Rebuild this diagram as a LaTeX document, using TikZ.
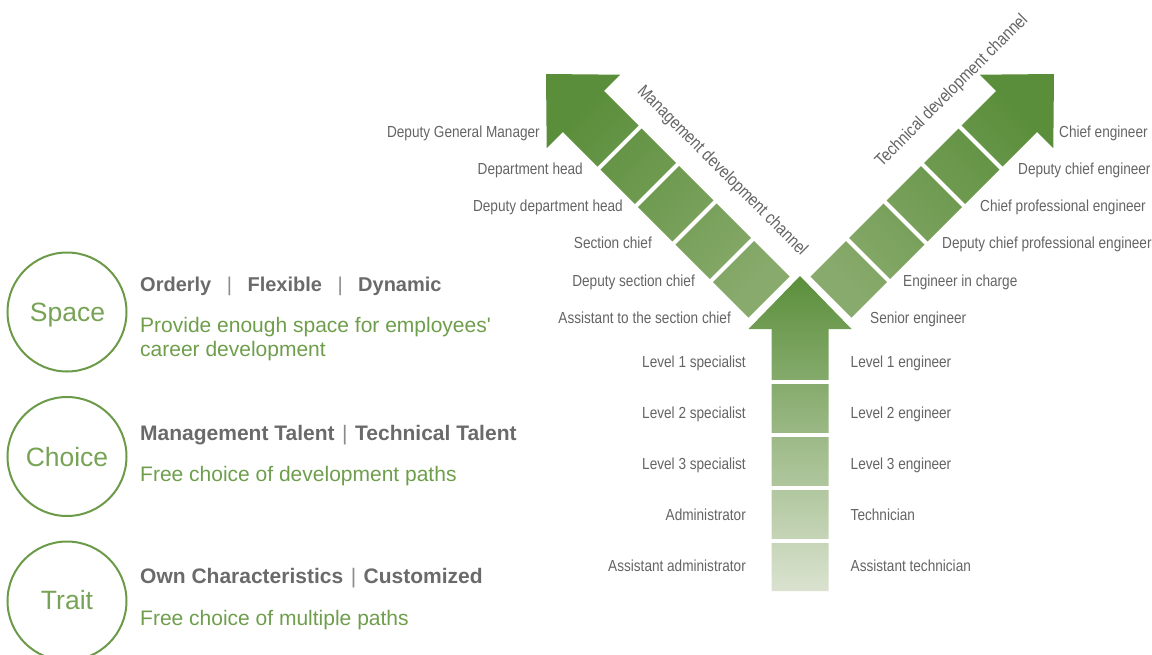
\documentclass[tikz,border=0pt]{standalone}
\usepackage{fontspec}
\setmainfont{Liberation Sans}[Ligatures=TeXOff]
\newfontfamily\narrowfont[FakeStretch=0.85]{Liberation Sans}
\usetikzlibrary{calc}
\definecolor{circg}{HTML}{6B9A49}
\definecolor{circt}{HTML}{77A356}
\definecolor{descg}{HTML}{6E9E4B}
\definecolor{headg}{HTML}{6A6A6A}
\definecolor{barg}{HTML}{8A8A8A}
\definecolor{labg}{HTML}{646464}
\definecolor{gdark}{HTML}{5B8E3B}
\definecolor{gtail}{HTML}{88AA6C}
\definecolor{cdark}{HTML}{5B8F3B}
\definecolor{cmid}{HTML}{8DAB70}
\definecolor{clight}{HTML}{DAE2CF}
\newcommand{\bsep}[1]{\hspace{#1}{\color{barg}\mdseries|}\hspace{#1}}
\tikzset{
  circ/.style={circle, draw=circg, line width=2pt, minimum size=119pt, inner sep=0pt},
  circtext/.style={font=\fontsize{26.5}{30}\selectfont, text=circt, anchor=base, inner sep=0pt},
  headtext/.style={font=\bfseries\fontsize{20}{24}\selectfont, text=headg, anchor=base west, inner sep=0pt},
  headwide/.style={headtext, font=\bfseries\fontsize{21}{24}\selectfont},
  desctext/.style={font=\fontsize{21}{24}\selectfont, text=descg, anchor=base west, inner sep=0pt},
  lab/.style={font=\narrowfont\fontsize{16}{19}\selectfont, text=labg, inner sep=0pt},
  labl/.style={lab, anchor=base east},
  labr/.style={lab, anchor=base west},
  chan/.style={font=\narrowfont\fontsize{17.5}{20}\selectfont, text=labg, inner sep=0pt},
  gapline/.style={white, line width=4pt},
}
\begin{document}
\begin{tikzpicture}[x=1pt,y=1pt]
\useasboundingbox (0,0) rectangle (1152,-654);
\clip (0,0) rectangle (1152,-654);

% ---------------- left column: circles and texts
\node[circ] (c1) at (67,-312) {};
\node[circ] (c2) at (67,-456.5) {};
\node[circ] (c3) at (67,-601) {};
\node[circtext] (t1) at (67.5,-321.5) {Space};
\node[circtext] (t2) at (67,-466) {Choice};
\node[circtext] (t3) at (67,-609.5) {Trait};

\node[headtext] (h1) at (140,-291.5) {Orderly\bsep{15.5pt}Flexible\bsep{15.5pt}Dynamic};
\node[desctext] (d1a) at (140,-332) {Provide enough space for employees'};
\node[desctext] (d1b) at (140,-356) {career development};

\node[headwide] (h2) at (140,-440.5) {Management Talent\bsep{7.5pt}Technical Talent};
\node[desctext] (d2) at (140,-481.5) {Free choice of development paths};

\node[headwide] (h3) at (140,-583.5) {Own Characteristics\bsep{7.5pt}Customized};
\node[desctext] (d3) at (140,-625.5) {Free choice of multiple paths};

% ---------------- central arrow
\coordinate (CT) at (800,-276);
\shade[top color=cdark, middle color=cmid, bottom color=clight]
  (CT) -- (748.5,-329) -- (771.5,-329) -- (771.5,-591) -- (828.5,-591)
  -- (828.5,-329) -- (851.5,-329) -- cycle;
\foreach \y in {381.5,434.5,487.5,540.5}
  \draw[gapline] (768,-\y) -- (832,-\y);

% ---------------- left (management) arrow
\coordinate (LT) at (546,-74);
\shade[top color=gdark, bottom color=gtail, shading angle=45]
  (LT) -- ($(LT)+(-45:53)+(45:52)$) -- ($(LT)+(-45:53)+(45:29)$)
  -- ($(LT)+(-45:315.5)+(45:29)$) -- ($(LT)+(-45:315.5)+(225:29)$)
  -- ($(LT)+(-45:53)+(225:29)$) -- ($(LT)+(-45:53)+(225:52)$) -- cycle;
\foreach \s in {104,157,210,263}
  \draw[gapline] ($(LT)+(-45:\s)+(45:32)$) -- ($(LT)+(-45:\s)+(225:32)$);

% ---------------- right (technical) arrow
\coordinate (RT) at (1054,-74);
\shade[top color=gdark, bottom color=gtail, shading angle=-45]
  (RT) -- ($(RT)+(-135:53)+(135:52)$) -- ($(RT)+(-135:53)+(135:29)$)
  -- ($(RT)+(-135:315.5)+(135:29)$) -- ($(RT)+(-135:315.5)+(-45:29)$)
  -- ($(RT)+(-135:53)+(-45:29)$) -- ($(RT)+(-135:53)+(-45:52)$) -- cycle;
\foreach \s in {104,157,210,263}
  \draw[gapline] ($(RT)+(-135:\s)+(135:32)$) -- ($(RT)+(-135:\s)+(-45:32)$);

% ---------------- channel labels
\node[chan, rotate=-45] (mch) at (722,-171) {Management development channel};
\node[chan, rotate=45] (tch) at (952,-91) {Technical development channel};

% ---------------- management labels
\node[labl] (m1) at (540,-137) {Deputy General Manager};
\node[labl] (m2) at (583,-174) {Department head};
\node[labl] (m3) at (623,-211) {Deputy department head};
\node[labl] (m4) at (652,-248) {Section chief};
\node[labl] (m5) at (695,-286) {Deputy section chief};
\node[labl] (m6) at (731,-323) {Assistant to the section chief};

% ---------------- technical labels
\node[labr] (e1) at (1059,-137) {Chief engineer};
\node[labr] (e2) at (1018,-174) {Deputy chief engineer};
\node[labr] (e3) at (980,-211) {Chief professional engineer};
\node[labr] (e4) at (942,-248) {Deputy chief professional engineer};
\node[labr] (e5) at (903,-286) {Engineer in charge};
\node[labr] (e6) at (870,-323) {Senior engineer};

% ---------------- stem labels
\node[labl] (s1) at (746,-367.7) {Level 1 specialist};
\node[labl] (s2) at (746,-418.3) {Level 2 specialist};
\node[labl] (s3) at (746,-469) {Level 3 specialist};
\node[labl] (s4) at (746,-520) {Administrator};
\node[labl] (s5) at (746,-571) {Assistant administrator};
\node[labr] (r1) at (850.5,-367.7) {Level 1 engineer};
\node[labr] (r2) at (850.5,-418.3) {Level 2 engineer};
\node[labr] (r3) at (850.5,-469) {Level 3 engineer};
\node[labr] (r4) at (850.5,-520) {Technician};
\node[labr] (r5) at (850.5,-571) {Assistant technician};
\end{tikzpicture}
\end{document}
